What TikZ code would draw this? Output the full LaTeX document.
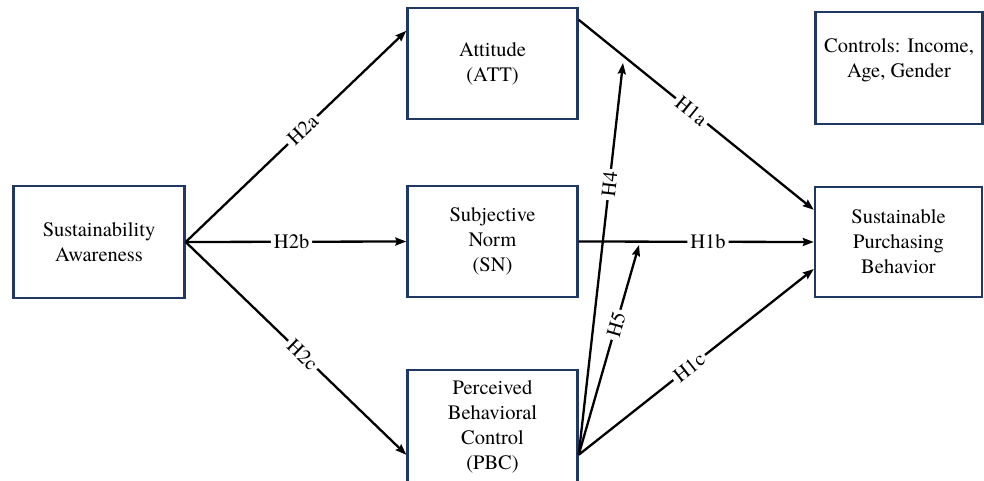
\documentclass[tikz,border=0pt]{standalone}
\usepackage{fontspec}
\newfontfamily\tnrfont{texgyretermes-regular.otf}
\usetikzlibrary{arrows.meta,calc}
\definecolor{boxblue}{HTML}{203864}
\begin{document}
\begin{tikzpicture}[x=1pt,y=-1pt,
  box/.style={draw=boxblue,line width=2.4pt,fill=white,align=center,
    font=\tnrfont\fontsize{20.5}{25}\selectfont,inner sep=0pt},
  link/.style={line width=2.3pt,-{Stealth[length=11pt,width=8pt,inset=1.5pt]}},
  lab/.style={sloped,fill=white,inner sep=3pt,font=\tnrfont\fontsize{20.5}{24}\selectfont}]
\useasboundingbox (0,0) rectangle (984,481);
\begin{scope}
\clip (0,0) rectangle (984,481);
\node[box,minimum width=171pt,minimum height=112pt] (SA) at (99,242) {Sustainability\\Awareness};
\node[box,minimum width=170pt,minimum height=111pt] (ATT) at (492.5,63.5) {Attitude\\(ATT)};
\node[box,minimum width=170pt,minimum height=111pt] (SN) at (492.5,241.5) {Subjective\\Norm\\(SN)};
\node[box,minimum width=170pt,minimum height=114pt] (PBC) at (492.5,427) {Perceived\\Behavioral\\Control\\(PBC)};
\node[box,minimum width=167pt,minimum height=112pt] (CTRL) at (899,68) {\raisebox{3pt}[0pt][0pt]{\begin{tabular}{@{}c@{}}Controls: Income,\\Age, Gender\end{tabular}}};
\node[box,minimum width=167pt,minimum height=110pt] (SPB) at (898.5,242) {Sustainable\\Purchasing\\Behavior};

\coordinate (attin) at ($(ATT.north west)+(0,24)$);
\coordinate (attout) at ($(ATT.north east)+(0,13)$);
\coordinate (pbcin) at ($(PBC.north west)+(0,86)$);
\coordinate (pbcout) at ($(PBC.north east)+(0,86)$);
\coordinate (spbA) at ($(SPB.north west)+(0,24)$);
\coordinate (spbC) at ($(SPB.west)+(0,27)$);
\coordinate (h4end) at (623,63);
\coordinate (h5end) at (639,245);

\draw[link] (SA.east) -- node[lab,pos=0.53] {H2a} (attin);
\draw[link] (SA.east) -- node[lab,pos=0.48] {H2b} (SN.west);
\draw[link] (SA.east) -- node[lab,pos=0.53] {H2c} (pbcin);
\draw[link] (attout) -- node[lab,pos=0.48] {H1a} (spbA);
\draw[link] (SN.east) -- node[lab,pos=0.55] {H1b} (SPB.west);
\draw[link] (pbcout) -- node[lab,pos=0.47] {H1c} (spbC);
\draw[link] (pbcout) -- node[lab,pos=0.69] {H4} (h4end);
\draw[link] (pbcout) -- node[lab,pos=0.62] {H5} (h5end);
\end{scope}
\end{tikzpicture}
\end{document}
